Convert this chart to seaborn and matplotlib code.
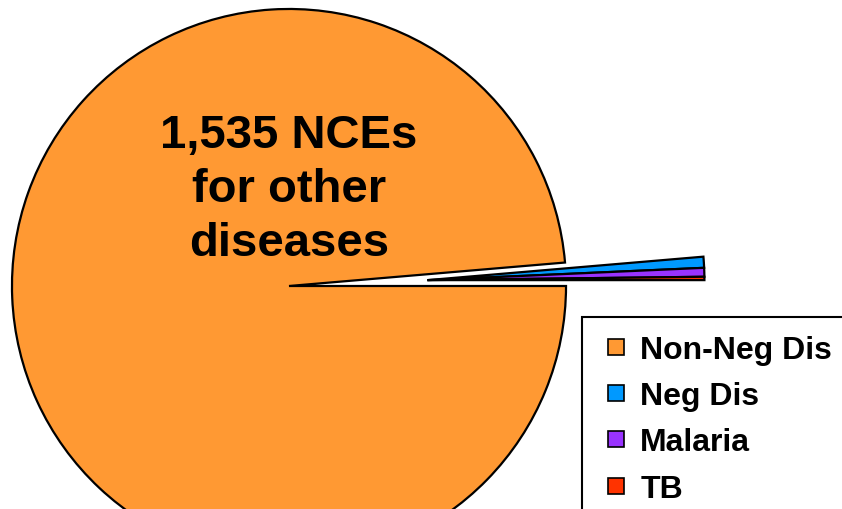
import numpy as np
import matplotlib.pyplot as plt
from matplotlib.lines import Line2D
import seaborn as sns

labels = ['Non-Neg Dis', 'Neg Dis', 'Malaria', 'TB']
counts = [1535, 10, 8, 3]
colors = ['#FF9933', '#0099FF', '#9933FF', '#FF3300']
pull_out = [False, True, True, True]

sns.set_theme(style='white')
plt.rcParams['font.family'] = ['Liberation Sans', 'DejaVu Sans']

fig = plt.figure(figsize=(8.42, 5.10), dpi=100)
ax = fig.add_axes([0, 0, 1, 1])
wedges, _ = ax.pie(counts, colors=colors, startangle=0, counterclock=False,
                   wedgeprops=dict(edgecolor='black', linewidth=1.6))

# pull the small slices out together, as one group
grp = [w for w, p in zip(wedges, pull_out) if p]
lo = min(min(w.theta1, w.theta2) for w in grp)
hi = max(max(w.theta1, w.theta2) for w in grp)
mid = np.deg2rad((lo + hi) / 2)
for w in grp:
    w.set_center((0.5 * np.cos(mid), 0.5 * np.sin(mid)))

ax.set_xlim(-1.043, 1.996)
ax.set_ylim(-0.805, 1.036)
ax.axis('off')

ax.text(0.0, 0.35, '1,535 NCEs\nfor other\ndiseases', ha='center', va='center',
        fontsize=34, fontweight='bold', color='black', linespacing=1.3)

handles = [Line2D([], [], linestyle='none', marker='s', markersize=11,
                  markerfacecolor=c, markeredgecolor='black', markeredgewidth=1.2)
           for c in colors]
leg = fig.legend(handles, labels, loc='upper left',
                 bbox_to_anchor=(0.691, 0.376, 0.4, 0), mode='expand',
                 prop={'weight': 'bold', 'size': 23}, labelcolor='black',
                 frameon=True, fancybox=False, shadow=False,
                 handlelength=1.03, handletextpad=0.25,
                 labelspacing=0.51, borderpad=0.55, borderaxespad=0)
leg.get_frame().set_edgecolor('black')
leg.get_frame().set_linewidth(1.5)
leg.get_frame().set_alpha(1)

fig.savefig('out.png', dpi=100)
